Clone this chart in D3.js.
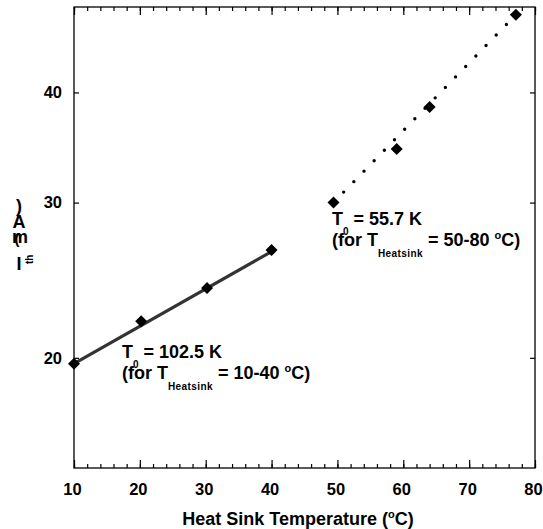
<!DOCTYPE html>
<html>
<head>
<meta charset="utf-8">
<script src="https://cdn.jsdelivr.net/npm/d3@7"></script>
<style>
  body { margin: 0; background: #fff; }
  svg text { font-family: "Liberation Sans", Arial, sans-serif; font-weight: bold; fill: #000; }
</style>
</head>
<body>
<div id="chart"></div>
<script>
// data
var lowTemps = [10, 20.2, 30.2, 40];
var lowCurrents = [19.7, 22.0, 24.0, 26.5];
var lowFit = [[10, 19.7], [40, 26.4]];

var highTemps = [49.4, 59.0, 64.0, 77.1];
var highCurrents = [30.0, 34.5, 38.5, 49.0];
var highFit = [[49.4, 30.0], [77.1, 49.0]];

var xTicks = [10, 20, 30, 40, 50, 60, 70, 80];
var xMinorTicks = d3.range(10, 81, 2);
var yTicks = [20, 30, 40];

var svgWidth = 543, svgHeight = 529;
var margin = {top: 7, right: 8, bottom: 61, left: 74};
var width = svgWidth - margin.left - margin.right;
var height = svgHeight - margin.top - margin.bottom;

var svg = d3.select("#chart").append("svg")
  .attr("width", svgWidth)
  .attr("height", svgHeight);

var chartGroup = svg.append("g")
  .attr("transform", `translate(${margin.left}, ${margin.top})`);

var xScale = d3.scaleLinear().domain([10, 80]).range([0, width]);
var yScale = d3.scaleLog().domain([15, 50]).range([height, 0]);

// axes, ticks point inward
function styleAxis(g) {
  g.select(".domain").remove();
  g.selectAll("line").attr("stroke", "#000").attr("stroke-width", 1.2);
  g.selectAll("text").style("font-size", "16.5px").style("font-weight", "bold")
    .style("font-family", "Liberation Sans, Arial, sans-serif");
}

chartGroup.append("g")
  .attr("transform", `translate(0, ${height})`)
  .call(d3.axisBottom(xScale).tickValues(xTicks).tickSize(-8).tickPadding(15).tickFormat(d3.format("d")))
  .call(styleAxis)
  .selectAll("text").attr("dx", -2);
chartGroup.append("g")
  .attr("transform", `translate(0, ${height})`)
  .call(d3.axisBottom(xScale).tickValues(xMinorTicks).tickSize(-4).tickFormat(""))
  .call(styleAxis);
chartGroup.append("g")
  .call(d3.axisTop(xScale).tickValues(xTicks).tickSize(-8).tickFormat(""))
  .call(styleAxis);
chartGroup.append("g")
  .call(d3.axisTop(xScale).tickValues(xMinorTicks).tickSize(-4).tickFormat(""))
  .call(styleAxis);

chartGroup.append("g")
  .call(d3.axisLeft(yScale).tickValues(yTicks).tickSize(-5).tickPadding(12).tickFormat(d3.format("d")))
  .call(styleAxis);
chartGroup.append("g")
  .attr("transform", `translate(${width}, 0)`)
  .call(d3.axisRight(yScale).tickValues(yTicks).tickSize(-5).tickFormat(""))
  .call(styleAxis);

// frame
chartGroup.append("rect")
  .attr("width", width)
  .attr("height", height)
  .attr("fill", "none")
  .attr("stroke", "#000")
  .attr("stroke-width", 1.3);

var line = d3.line()
  .x(d => xScale(d[0]))
  .y(d => yScale(d[1]));

// fit lines
chartGroup.append("path")
  .datum(lowFit)
  .attr("d", line)
  .attr("fill", "none")
  .attr("stroke", "#333")
  .attr("stroke-width", 3.2);

chartGroup.append("path")
  .datum(highFit)
  .attr("d", line)
  .attr("fill", "none")
  .attr("stroke", "#000")
  .attr("stroke-width", 3.4)
  .attr("stroke-linecap", "round")
  .attr("stroke-dasharray", "0,14.6");

// diamond markers
function diamond(s) {
  return `M0,${-s}L${s},0L0,${s}L${-s},0Z`;
}
var points = lowTemps.map((t, i) => [t, lowCurrents[i]])
  .concat(highTemps.map((t, i) => [t, highCurrents[i]]));

chartGroup.selectAll(".pt")
  .data(points)
  .enter()
  .append("path")
  .attr("class", "pt")
  .attr("transform", d => `translate(${xScale(d[0])}, ${yScale(d[1])})`)
  .attr("d", diamond(6))
  .attr("fill", "#000");

// annotations
function addNote(x, y, t0, range) {
  var t1 = svg.append("text").attr("x", x).attr("y", y).style("font-size", "18px");
  t1.append("tspan").text("T");
  t1.append("tspan").attr("dy", 10).style("font-size", "10px").text("0");
  t1.append("tspan").attr("dy", -10).text(" = " + t0 + " K");

  var t2 = svg.append("text").attr("x", x).attr("y", y + 21).style("font-size", "18px");
  t2.append("tspan").text("(for T");
  t2.append("tspan").attr("dy", 11).style("font-size", "10px").style("letter-spacing", "0.4px").text("Heatsink");
  t2.append("tspan").attr("dy", -11).text(" = " + range + " ");
  t2.append("tspan").attr("dy", -7).style("font-size", "11px").text("o");
  t2.append("tspan").attr("dy", 7).text("C)");
}
addNote(122, 358, "102.5", "10-40");
addNote(332, 224.5, "55.7", "50-80");

// x axis title
var xt = svg.append("text")
  .attr("x", 298)
  .attr("y", 525)
  .attr("text-anchor", "middle")
  .style("font-size", "18px");
xt.append("tspan").text("Heat Sink Temperature (");
xt.append("tspan").attr("dy", -7).style("font-size", "11px").text("o");
xt.append("tspan").attr("dy", 7).text("C)");

// y axis title, glyphs stacked upright
var yl = svg.append("g").style("font-size", "18px");
yl.append("text").attr("x", 19).attr("y", 212).attr("text-anchor", "middle").text(")");
yl.append("text").attr("x", 19).attr("y", 228).attr("text-anchor", "middle").text("A");
yl.append("text").attr("x", 20).attr("y", 243).attr("text-anchor", "middle").text("m");
yl.append("text").attr("x", 17).attr("y", 244).attr("text-anchor", "middle").style("font-size", "15px").text("(");
yl.append("text").attr("x", 19).attr("y", 270).attr("text-anchor", "middle").text("I");
yl.append("text")
  .attr("transform", "translate(33, 264) rotate(-90)")
  .style("font-size", "10px")
  .text("th");
</script>
</body>
</html>
